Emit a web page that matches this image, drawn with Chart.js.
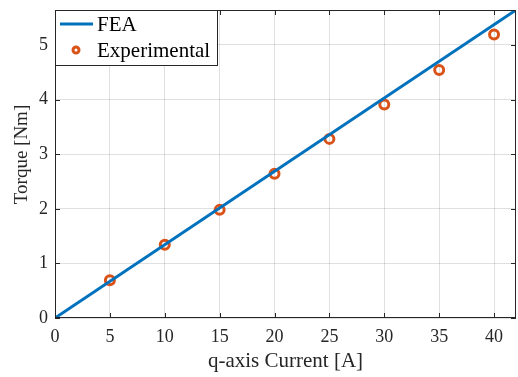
<!DOCTYPE html>
<html>
<head>
<meta charset="utf-8">
<script src="https://cdn.jsdelivr.net/npm/chart.js@4.4.1/dist/chart.umd.min.js"></script>
<style>
  html, body { margin: 0; padding: 0; background: #fff; }
  #wrap { width: 518px; height: 377px; }
</style>
</head>
<body>
<div id="wrap"><canvas id="c" width="518" height="377"></canvas></div>
<script>
const feaCurrent = [0, 42];
const feaTorque = [0, 5.64];
const expCurrent = [5, 10, 15, 20, 25, 30, 35, 40];
const expTorque = [0.69, 1.34, 1.98, 2.64, 3.28, 3.91, 4.54, 5.19];
const xTicks = [0, 5, 10, 15, 20, 25, 30, 35, 40];
const yTicks = [0, 1, 2, 3, 4, 5];

const FONT = '"Liberation Serif", "Times New Roman", serif';
const BLUE = '#0072BD';
const ORANGE = '#D95319';
const AXIS = '#262626';

const toPoints = (xs, ys) => xs.map((x, i) => ({ x, y: ys[i] }));

// box, inward ticks and legend, MATLAB style
const matlabBox = {
  id: 'matlabBox',
  afterDatasetsDraw(chart) {
    const { ctx, chartArea: a, scales: { x, y } } = chart;
    ctx.save();
    ctx.strokeStyle = AXIS;
    ctx.lineWidth = 1;
    ctx.beginPath();
    xTicks.forEach((v) => {
      const px = Math.round(x.getPixelForValue(v)) + 0.5;
      ctx.moveTo(px, a.bottom); ctx.lineTo(px, a.bottom - 5);
      ctx.moveTo(px, a.top); ctx.lineTo(px, a.top + 5);
    });
    yTicks.forEach((v) => {
      const py = Math.round(y.getPixelForValue(v)) + 0.5;
      ctx.moveTo(a.left, py); ctx.lineTo(a.left + 5, py);
      ctx.moveTo(a.right, py); ctx.lineTo(a.right - 5, py);
    });
    ctx.stroke();
    ctx.strokeRect(Math.round(a.left) + 0.5, Math.round(a.top) + 0.5,
      Math.round(a.right - a.left) - 1, Math.round(a.bottom - a.top) - 1);

    // legend
    const lx = Math.round(a.left), ly = Math.round(a.top);
    ctx.fillStyle = '#fff';
    ctx.fillRect(lx, ly, 162, 55);
    ctx.strokeRect(lx + 0.5, ly + 0.5, 162, 55);
    ctx.strokeStyle = BLUE;
    ctx.lineWidth = 3;
    ctx.beginPath();
    ctx.moveTo(lx + 5, ly + 14); ctx.lineTo(lx + 38, ly + 14);
    ctx.stroke();
    ctx.strokeStyle = ORANGE;
    ctx.lineWidth = 3;
    ctx.beginPath();
    ctx.arc(lx + 21, ly + 40, 3, 0, Math.PI * 2);
    ctx.stroke();
    ctx.fillStyle = '#000';
    ctx.font = '21px ' + FONT;
    ctx.textBaseline = 'middle';
    ctx.fillText('FEA', lx + 42, ly + 15);
    ctx.fillText('Experimental', lx + 42, ly + 41);
    ctx.restore();
  }
};

new Chart(document.getElementById('c'), {
  type: 'scatter',
  data: {
    datasets: [
      {
        label: 'FEA',
        data: toPoints(feaCurrent, feaTorque),
        showLine: true,
        borderColor: BLUE,
        borderWidth: 3,
        pointRadius: 0,
        fill: false
      },
      {
        label: 'Experimental',
        data: toPoints(expCurrent, expTorque),
        showLine: false,
        borderColor: ORANGE,
        backgroundColor: 'rgba(0,0,0,0)',
        borderWidth: 3,
        pointRadius: 4.5,
        pointStyle: 'circle'
      }
    ]
  },
  options: {
    responsive: false,
    animation: false,
    layout: { autoPadding: false, padding: { top: 10, right: 2, left: 0, bottom: 0 } },
    plugins: { legend: { display: false }, tooltip: { enabled: false } },
    scales: {
      x: {
        type: 'linear',
        min: 0,
        max: 42,
        afterBuildTicks: (s) => { s.ticks = xTicks.map(v => ({ value: v })); },
        afterFit: (s) => { s.height = 59; s.paddingLeft = 0; s.paddingRight = 0; },
        grid: { color: 'rgba(0,0,0,0.12)', drawTicks: false },
        border: { display: false },
        ticks: { color: '#262626', font: { family: FONT, size: 18 }, padding: 8, maxRotation: 0 },
        title: { display: true, text: 'q-axis Current [A]', color: '#262626',
          font: { family: FONT, size: 21 }, padding: { top: 0, bottom: 3 } }
      },
      y: {
        type: 'linear',
        min: 0,
        max: 5.64,
        afterBuildTicks: (s) => { s.ticks = yTicks.map(v => ({ value: v })); },
        afterFit: (s) => { s.width = 55; s.paddingTop = 0; s.paddingBottom = 0; },
        grid: { color: 'rgba(0,0,0,0.12)', drawTicks: false },
        border: { display: false },
        ticks: { color: '#262626', font: { family: FONT, size: 18 }, padding: 7 },
        title: { display: true, text: '    Torque [Nm]', color: '#262626',
          font: { family: FONT, size: 19 }, padding: { top: 11, bottom: 0 } }
      }
    }
  },
  plugins: [matlabBox]
});
</script>
</body>
</html>
